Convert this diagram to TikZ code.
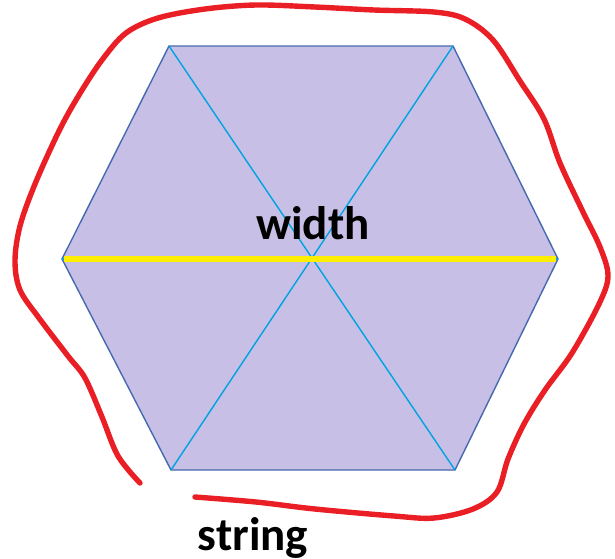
\documentclass[tikz,border=0pt]{standalone}
\usepackage{fontspec}
\setmainfont{Carlito}
\usepackage{tikz}
\usetikzlibrary{calc,positioning}
\definecolor{HexLila}{RGB}{199,191,229}
\definecolor{HexRand}{RGB}{70,105,175}
\definecolor{HexCyan}{RGB}{0,163,226}
\definecolor{HexGelb}{RGB}{255,238,0}
\definecolor{FadenRot}{RGB}{234,30,37}

\begin{document}
\begin{tikzpicture}[x=1pt, y=-1pt,
			hex/.style={fill=HexLila, draw=HexRand, line width=1.4pt, line join=miter},
			diag/.style={draw=HexCyan, line width=1.4pt},
			breite/.style={draw=HexGelb, line width=5.5pt},
			faden/.style={draw=FadenRot, line width=5.4pt, line cap=round, line join=round},
			lbl/.style={font=\fontsize{47}{52}\selectfont\bfseries, inner sep=0pt}]
			
			\useasboundingbox (0,0) rectangle (615,558);
			
			% Corners
			\coordinate (TL) at (169,46);
			\coordinate (TR) at (453,46);
			\coordinate (R)  at (558,259);
			\coordinate (BR) at (455,470);
			\coordinate (BL) at (171,470);
			\coordinate (L)  at (62,259);
			
			% Hexagon
			\draw[hex] (TL) -- (TR) -- (R) -- (BR) -- (BL) -- (L) -- cycle;
			
			% Diagonals
			\draw[diag] (TL) -- (BR);
			\draw[diag] (TR) -- (BL);
			\draw[diag] (L) -- (R);
			\draw[breite] ($(L)+(2,0)$) -- ($(R)+(-2,0)$);
			
			% String
			\draw[faden] plot[smooth, tension=0.55] coordinates {
				(140,483) (118,456) (102,417) (85,378) (68,356) (39,318) (20,290)
				(15,261) (20,226) (35,184) (59,131) (79,95) (102,60) (126,33)
				(158,18) (205,9) (256,5) (315,7) (374,10) (434,12) (465,19)
				(493,40) (520,81) (544,119) (560,163) (583,212) (600,247)
				(608,276) (599,304) (572,353) (545,390) (524,424) (508,459)
				(497,492) (473,509) (434,518) (394,516) (315,509) (256,502) (195,497)};
			
			% Labels
			\node[lbl, anchor=base] (W) at (313,239) {width};
			\node[lbl, anchor=base] (S) at (253,550) {string};
		\end{tikzpicture}
\end{document}
